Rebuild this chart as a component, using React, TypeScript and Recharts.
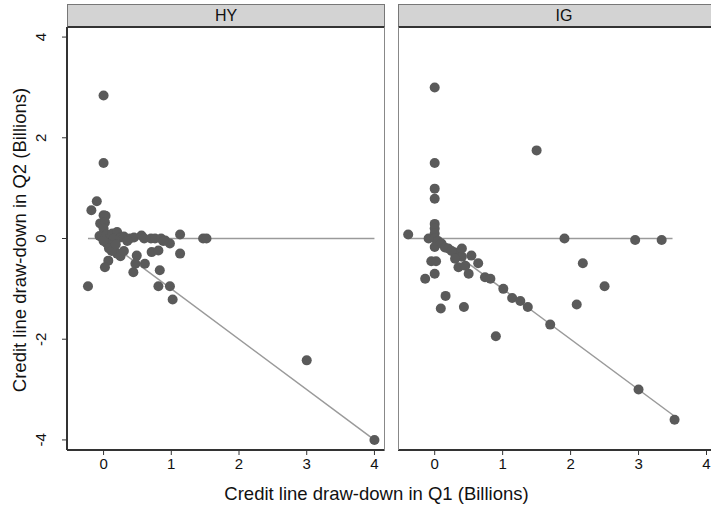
import React from "react";
import {
  ScatterChart,
  Scatter,
  XAxis,
  YAxis,
  ReferenceLine,
} from "recharts";

// HY panel points (Q1 draw-down, Q2 draw-down), billions
const hyX = [
  0, 0, -0.1, -0.18, 0, 0.03, -0.05, 0.02, 0, -0.06, -0.02, 0.05, 0.1, 0.13,
  0.2, 0.15, 0.25, 0.3, 0.39, 0.45, 0.56, 0.6, 0.7, 0.76, 0.85, 0.91, 0.98,
  1.13, 1.47, 1.52, 1.13, 0.71, 0.81, 0.88, 0.1, 0.15, 0.2, 0.25, 0.05, 0.07,
  0.02, 0.49, 0.47, 0.61, 0.44, 0.83, -0.23, 0.81, 0.98, 1.02, 3.0, 4.0, 0.3,
  0.35, 0, 0.08, 0.12, 0.18,
];
const hyY = [
  2.84, 1.5, 0.74, 0.56, 0.46, 0.45, 0.3, 0.32, 0.2, 0.05, 0.02, 0.08, 0.03,
  0.1, 0.13, 0, 0.02, 0.04, 0, 0.02, 0.06, 0, 0, 0, 0, -0.04, -0.1, 0.08, 0,
  0, -0.3, -0.27, -0.24, -0.05, -0.15, -0.2, -0.3, -0.35, -0.1, -0.44, -0.57,
  -0.34, -0.5, -0.5, -0.67, -0.63, -0.95, -0.95, -0.95, -1.21, -2.42, -4.0,
  -0.25, -0.05, -0.05, -0.2, -0.25, -0.12,
];

// IG panel points
const igX = [
  0, 1.5, 0, 0, 0, -0.39, 0, 0, 0, -0.09, 0, 0.05, 0, 0.1, 0.15, 0.2, 0.3,
  0.4, 0.4, 0.54, 0.64, 0.35, 0.45, 0.5, -0.05, 0.02, 0, -0.14, 0.74, 0.82,
  1.01, 1.14, 1.26, 1.37, 1.7, 0.16, 0.09, 0.43, 0.9, 1.91, 2.95, 3.34, 2.18,
  2.5, 2.09, 3.0, 3.53, 0.25, 0.3,
];
const igY = [
  3.0, 1.75, 1.5, 0.99, 0.79, 0.08, 0.29, 0.2, 0.1, 0, 0, -0.05, -0.17, -0.1,
  -0.18, -0.2, -0.28, -0.36, -0.2, -0.34, -0.49, -0.57, -0.54, -0.7, -0.45,
  -0.45, -0.7, -0.8, -0.77, -0.8, -1.0, -1.18, -1.24, -1.36, -1.71, -1.14,
  -1.39, -1.36, -1.94, 0, -0.03, -0.03, -0.49, -0.95, -1.31, -3.0, -3.6,
  -0.25, -0.4,
];

// reference line extents: [flat line start, flat line end], diagonal runs 0 -> end
const hyFlat = [-0.23, 4.0];
const igFlat = [-0.37, 3.5];
const hyDiagEnd = 4.0;
const igDiagEnd = 3.53;

const xTicks = [0, 1, 2, 3, 4];
const yTicks = [-4, -2, 0, 2, 4];
const xDomain = [-0.54, 4.15];
const yDomain = [-4.2, 4.2];

const FONT = "'Liberation Sans', Arial, sans-serif";
const DOT = "#5a5a5a";
const LINE = "#9a9a9a";

const toPoints = (xs: number[], ys: number[]) =>
  xs.map((x, i) => ({ x, y: ys[i] }));

const Dot = (props: any) => (
  <circle cx={props.cx} cy={props.cy} r={5} fill={DOT} />
);

const YTick = (props: any) => {
  const { x, y, payload } = props;
  return (
    <text
      x={x - 14}
      y={y}
      textAnchor="middle"
      fontSize={15}
      fontFamily={FONT}
      fill="#111"
      transform={`rotate(-90, ${x - 14}, ${y})`}
    >
      {payload.value}
    </text>
  );
};

function Panel({
  xs,
  ys,
  flat,
  diagEnd,
  showY,
  width,
  right,
}: {
  xs: number[];
  ys: number[];
  flat: number[];
  diagEnd: number;
  showY: boolean;
  width: number;
  right: number;
}) {
  return (
    <ScatterChart
      width={width}
      height={463}
      margin={{ top: 0, right, bottom: 0, left: 0 }}
    >
      <XAxis
        type="number"
        dataKey="x"
        domain={xDomain}
        ticks={xTicks}
        allowDataOverflow
        tickSize={5}
        tickMargin={3}
        height={40}
        axisLine={{ stroke: "#333", strokeWidth: 2 }}
        tickLine={{ stroke: "#333" }}
        tick={{ fontSize: 15, fontFamily: FONT, fill: "#111" }}
      />
      <YAxis
        type="number"
        dataKey="y"
        domain={yDomain}
        ticks={yTicks}
        allowDataOverflow
        hide={!showY}
        width={67}
        tickSize={5}
        axisLine={{ stroke: "#333", strokeWidth: 2 }}
        tickLine={{ stroke: "#333" }}
        tick={<YTick />}
      />
      <Scatter
        data={toPoints(xs, ys)}
        shape={<Dot />}
        isAnimationActive={false}
      />
      <ReferenceLine
        segment={[
          { x: flat[0], y: 0 },
          { x: flat[1], y: 0 },
        ]}
        stroke={LINE}
        strokeWidth={1.5}
      />
      <ReferenceLine
        segment={[
          { x: 0, y: 0 },
          { x: diagEnd, y: -diagEnd },
        ]}
        stroke={LINE}
        strokeWidth={1.5}
      />
    </ScatterChart>
  );
}

const stripStyle = (left: number, width: number): React.CSSProperties => ({
  position: "absolute",
  left,
  top: 4,
  width,
  height: 21,
  background: "#d3d3d3",
  borderTop: "1px solid #777",
  borderLeft: "1px solid #777",
  borderRight: "1px solid #777",
  borderBottom: "2px solid #333",
  boxSizing: "content-box",
  textAlign: "center",
  fontFamily: FONT,
  fontSize: 16,
  lineHeight: "21px",
  color: "#111",
});

export default function App() {
  return (
    <div
      style={{
        position: "absolute",
        left: 0,
        top: 0,
        width: 711,
        height: 508,
        overflow: "hidden",
        background: "#fff",
      }}
    >
      <div style={stripStyle(67, 316)}>HY</div>
      <div style={stripStyle(398, 330)}>IG</div>

      <div style={{ position: "absolute", left: 0, top: 27 }}>
        <Panel
          xs={hyX}
          ys={hyY}
          flat={hyFlat}
          diagEnd={hyDiagEnd}
          showY
          width={390}
          right={5.4}
        />
      </div>
      <div style={{ position: "absolute", left: 398, top: 27 }}>
        <Panel
          xs={igX}
          ys={igY}
          flat={igFlat}
          diagEnd={igDiagEnd}
          showY={false}
          width={330}
          right={11.3}
        />
      </div>

      {/* panel frame edges not drawn by the axes */}
      <div
        style={{
          position: "absolute",
          left: 383.6,
          top: 27,
          width: 1.5,
          height: 423,
          background: "#888",
        }}
      />
      <div
        style={{
          position: "absolute",
          left: 397.5,
          top: 27,
          width: 1.5,
          height: 423,
          background: "#888",
        }}
      />

      <div style={{ position: "absolute", left: 0, top: 240, height: 0 }}>
        <div
          style={{
            position: "absolute",
            left: 20,
            top: 0,
            transform: "translate(-50%, -50%) rotate(-90deg)",
            whiteSpace: "nowrap",
            fontFamily: FONT,
            fontSize: 18.5,
            color: "#111",
          }}
        >
          Credit line draw-down in Q2 (Billions)
        </div>
      </div>
      <div
        style={{
          position: "absolute",
          left: 0,
          top: 483,
          width: 753,
          textAlign: "center",
          fontFamily: FONT,
          fontSize: 18.5,
          color: "#111",
        }}
      >
        Credit line draw-down in Q1 (Billions)
      </div>
    </div>
  );
}
